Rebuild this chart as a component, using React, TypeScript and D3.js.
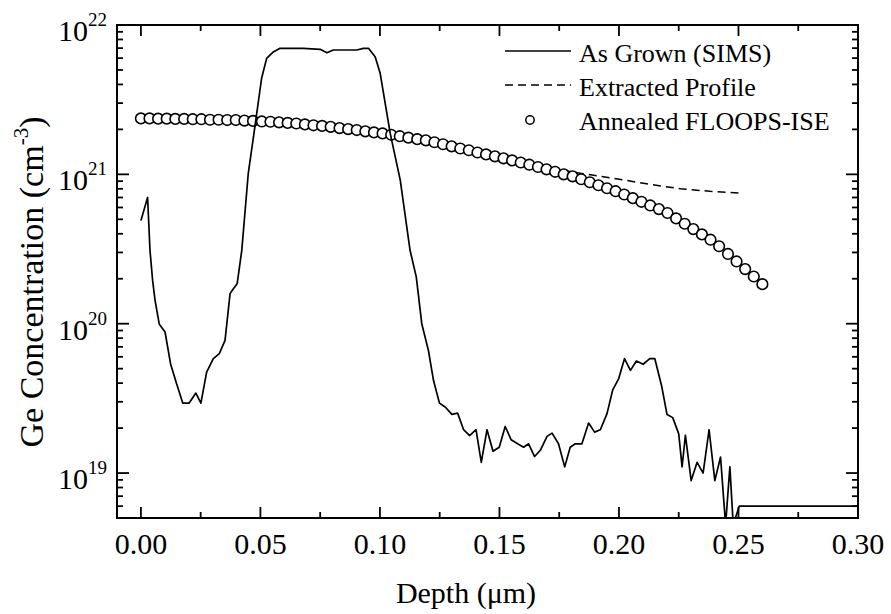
import React from 'react';
import * as d3 from 'd3';

// ---- Data ----
const simsDepth = [
  0.0, 0.0028, 0.0038, 0.0049, 0.0059, 0.0077, 0.0101, 0.0124, 0.0149, 0.0175,
  0.0202, 0.0230, 0.0251, 0.0275, 0.0303, 0.0328, 0.0352, 0.0373, 0.0384, 0.0403,
  0.0422, 0.0449, 0.0473, 0.0505, 0.0526, 0.0554, 0.0582, 0.0680, 0.0750, 0.0778,
  0.0805, 0.0903, 0.0931, 0.0952, 0.0980, 0.1001, 0.1043, 0.1085, 0.1126, 0.1152,
  0.1175, 0.1203, 0.1224, 0.1249, 0.1273, 0.1301, 0.1325, 0.1350, 0.1375, 0.1402,
  0.1424, 0.1448, 0.1473, 0.1499, 0.1524, 0.1549, 0.1576, 0.1601, 0.1622, 0.1647,
  0.1671, 0.1699, 0.1720, 0.1747, 0.1773, 0.1796, 0.1817, 0.1845, 0.1873, 0.1898,
  0.1922, 0.1950, 0.1974, 0.1999, 0.2023, 0.2048, 0.2073, 0.2101, 0.2129, 0.2150,
  0.2178, 0.2201, 0.2225, 0.2250, 0.2264, 0.2278, 0.2302, 0.2327, 0.2352, 0.2377,
  0.2401, 0.2425, 0.2446, 0.2464, 0.2478, 0.2503, 0.3000,
];
const simsConc = [
  4.9e20, 7.0e20, 3.1e20, 1.95e20, 1.44e20, 9.9e19, 8.8e19, 5.4e19, 3.97e19, 2.94e19,
  2.94e19, 3.43e19, 2.94e19, 4.74e19, 5.83e19, 6.3e19, 7.74e19, 1.59e20, 1.69e20, 1.86e20,
  3.1e20, 1.01e21, 1.88e21, 4.4e21, 5.98e21, 6.6e21, 6.98e21, 6.98e21, 6.87e21, 6.52e21,
  6.8e21, 6.8e21, 6.98e21, 6.98e21, 6.13e21, 4.75e21, 1.88e21, 9.15e20, 3.1e20, 2.06e20,
  1.0e20, 6.6e19, 4.18e19, 2.94e19, 2.77e19, 2.47e19, 2.52e19, 1.95e19, 1.78e19, 1.95e19,
  1.18e19, 1.95e19, 1.40e19, 1.49e19, 2.05e19, 1.67e19, 1.57e19, 1.49e19, 1.57e19, 1.29e19,
  1.42e19, 1.76e19, 1.85e19, 1.57e19, 1.10e19, 1.49e19, 1.57e19, 1.57e19, 2.16e19, 1.88e19,
  1.95e19, 2.5e19, 3.61e19, 4.29e19, 5.83e19, 4.87e19, 5.62e19, 5.35e19, 5.83e19, 5.83e19,
  3.86e19, 2.47e19, 2.35e19, 1.83e19, 1.10e19, 1.79e19, 8.9e18, 1.18e19, 1.0e19, 1.95e19,
  8.9e18, 1.28e19, 4.5e18, 1.10e19, 4.5e18, 6.0e18, 6.0e18,
];

const extDepth = [0.150, 0.165, 0.1713, 0.185, 0.1978, 0.2125, 0.2257, 0.238, 0.2501];
const extConc = [1.30e21, 1.15e21, 1.10e21, 1.01e21, 9.4e20, 8.6e20, 8.0e20, 7.7e20, 7.5e20];

const annDepth = [
  0.0, 0.0036, 0.0072, 0.0108, 0.0144, 0.0181, 0.0217, 0.0253, 0.0289, 0.0325,
  0.0361, 0.0397, 0.0433, 0.0469, 0.0506, 0.0542, 0.0578, 0.0614, 0.0650, 0.0686,
  0.0722, 0.0758, 0.0794, 0.0831, 0.0867, 0.0903, 0.0939, 0.0975, 0.1011, 0.1047,
  0.1083, 0.1119, 0.1156, 0.1192, 0.1228, 0.1264, 0.1300, 0.1336, 0.1372, 0.1408,
  0.1444, 0.1481, 0.1517, 0.1553, 0.1589, 0.1625, 0.1661, 0.1697, 0.1733, 0.1769,
  0.1806, 0.1842, 0.1878, 0.1914, 0.1950, 0.1986, 0.2022, 0.2058, 0.2094, 0.2131,
  0.2167, 0.2203, 0.2239, 0.2275, 0.2311, 0.2347, 0.2383, 0.2419, 0.2456, 0.2492,
  0.2528, 0.2564, 0.2600,
];
const annConc = [
  2.37e21, 2.37e21, 2.36e21, 2.36e21, 2.35e21, 2.35e21, 2.34e21, 2.34e21, 2.32e21, 2.32e21,
  2.31e21, 2.31e21, 2.29e21, 2.28e21, 2.26e21, 2.25e21, 2.23e21, 2.21e21, 2.19e21, 2.16e21,
  2.13e21, 2.11e21, 2.08e21, 2.04e21, 2.01e21, 1.98e21, 1.94e21, 1.91e21, 1.88e21, 1.84e21,
  1.80e21, 1.76e21, 1.72e21, 1.69e21, 1.64e21, 1.59e21, 1.54e21, 1.49e21, 1.45e21, 1.40e21,
  1.36e21, 1.32e21, 1.28e21, 1.24e21, 1.20e21, 1.16e21, 1.12e21, 1.08e21, 1.04e21, 1.00e21,
  9.70e20, 9.27e20, 8.85e20, 8.45e20, 8.07e20, 7.71e20, 7.33e20, 6.93e20, 6.55e20, 6.19e20,
  5.85e20, 5.51e20, 5.07e20, 4.67e20, 4.30e20, 3.96e20, 3.65e20, 3.30e20, 2.93e20, 2.61e20,
  2.32e20, 2.07e20, 1.84e20,
];

const xMajorTicks = [0, 0.05, 0.1, 0.15, 0.2, 0.25, 0.3];
const xTickLabels = ['0.00', '0.05', '0.10', '0.15', '0.20', '0.25', '0.30'];
const xMinorTicks = [0.025, 0.075, 0.125, 0.175, 0.225, 0.275];
const yMajorExps = [19, 20, 21, 22];
const legendLabels = ['As Grown (SIMS)', 'Extracted Profile', 'Annealed FLOOPS-ISE'];

export default function App() {
  const W = 891, H = 614;
  const L = 117, R = 858, T = 25, B = 518;
  const x = d3.scaleLinear().domain([-0.01, 0.30]).range([L, R]);
  const y = d3.scaleLog().domain([5e18, 1e22]).range([B, T]);

  const yMinor: number[] = [];
  for (let k = 18; k <= 21; k++) {
    for (let m = 2; m <= 9; m++) {
      const v = m * Math.pow(10, k);
      if (v >= 5e18 && v <= 1e22) yMinor.push(v);
    }
  }

  const line = d3.line<[number, number]>().x(d => x(d[0])).y(d => y(d[1]));
  const simsPath = line(simsDepth.map((d, i) => [d, simsConc[i]] as [number, number])) || '';
  const extPath = line(extDepth.map((d, i) => [d, extConc[i]] as [number, number])) || '';

  const font = '"Liberation Serif", "Times New Roman", serif';
  const majLen = 11, minLen = 6;

  return (
    <div style={{ position: 'absolute', left: 0, top: 0 }}>
      <svg width={W} height={H} viewBox={`0 0 ${W} ${H}`} style={{ display: 'block', background: '#fff' }}>
        <defs>
          <clipPath id="plotClip">
            <rect x={L} y={T} width={R - L} height={B - T} />
          </clipPath>
        </defs>
        <rect x={0} y={0} width={W} height={H} fill="#fff" />

        {/* data */}
        <g clipPath="url(#plotClip)">
          <path d={extPath} fill="none" stroke="#000" strokeWidth={1.5} strokeDasharray="8,5" />
          {annDepth.map((d, i) => (
            <circle key={i} cx={x(d)} cy={y(annConc[i])} r={5.3} fill="#fff" stroke="#000" strokeWidth={1.6} />
          ))}
          <path d={simsPath} fill="none" stroke="#000" strokeWidth={1.7} strokeLinejoin="round" />
        </g>

        {/* ticks */}
        <g stroke="#000" strokeWidth={1.8}>
          {xMajorTicks.map((t, i) => (
            <g key={'xm' + i}>
              <line x1={x(t)} x2={x(t)} y1={B} y2={B - majLen} />
              <line x1={x(t)} x2={x(t)} y1={T} y2={T + majLen} />
            </g>
          ))}
          {xMinorTicks.map((t, i) => (
            <g key={'xn' + i}>
              <line x1={x(t)} x2={x(t)} y1={B} y2={B - minLen} />
              <line x1={x(t)} x2={x(t)} y1={T} y2={T + minLen} />
            </g>
          ))}
          {yMajorExps.map((e, i) => (
            <g key={'ym' + i}>
              <line x1={L} x2={L + majLen + 1} y1={y(Math.pow(10, e))} y2={y(Math.pow(10, e))} />
              <line x1={R} x2={R - majLen - 1} y1={y(Math.pow(10, e))} y2={y(Math.pow(10, e))} />
            </g>
          ))}
          {yMinor.map((v, i) => (
            <g key={'yn' + i}>
              <line x1={L} x2={L + minLen} y1={y(v)} y2={y(v)} />
              <line x1={R} x2={R - minLen} y1={y(v)} y2={y(v)} />
            </g>
          ))}
        </g>

        {/* frame */}
        <rect x={L} y={T} width={R - L} height={B - T} fill="none" stroke="#000" strokeWidth={2} />

        {/* x tick labels */}
        {xMajorTicks.map((t, i) => (
          <text key={'xl' + i} x={x(t)} y={554} textAnchor="middle" fontFamily={font} fontSize={30} fill="#000">
            {xTickLabels[i]}
          </text>
        ))}

        {/* y tick labels */}
        {yMajorExps.map((e, i) => (
          <text key={'yl' + i} x={58} y={y(Math.pow(10, e)) + 16} fontFamily={font} fontSize={30} fill="#000">
            10
            <tspan fontSize={19} dy={-15}>{e}</tspan>
          </text>
        ))}

        {/* axis titles */}
        <text x={466} y={603} textAnchor="middle" fontFamily={font} fontSize={30} fill="#000">
          Depth (μm)
        </text>
        <text transform="translate(43,282) rotate(-90)" textAnchor="middle" fontFamily={font} fontSize={34} fill="#000">
          Ge Concentration (cm
          <tspan fontSize={21} dy={-15}>-3</tspan>
          <tspan dy={15}>)</tspan>
        </text>

        {/* legend */}
        <g>
          <line x1={505} x2={571} y1={51} y2={51} stroke="#000" strokeWidth={1.7} />
          <line x1={505} x2={571} y1={85} y2={85} stroke="#000" strokeWidth={1.5} strokeDasharray="8,5" />
          <circle cx={530} cy={120} r={4.2} fill="#fff" stroke="#000" strokeWidth={1.5} />
          {legendLabels.map((s, i) => (
            <text key={'lg' + i} x={579} y={[61.5, 95.5, 130][i]} fontFamily={font} fontSize={26} fill="#000">
              {s}
            </text>
          ))}
        </g>
      </svg>
    </div>
  );
}
